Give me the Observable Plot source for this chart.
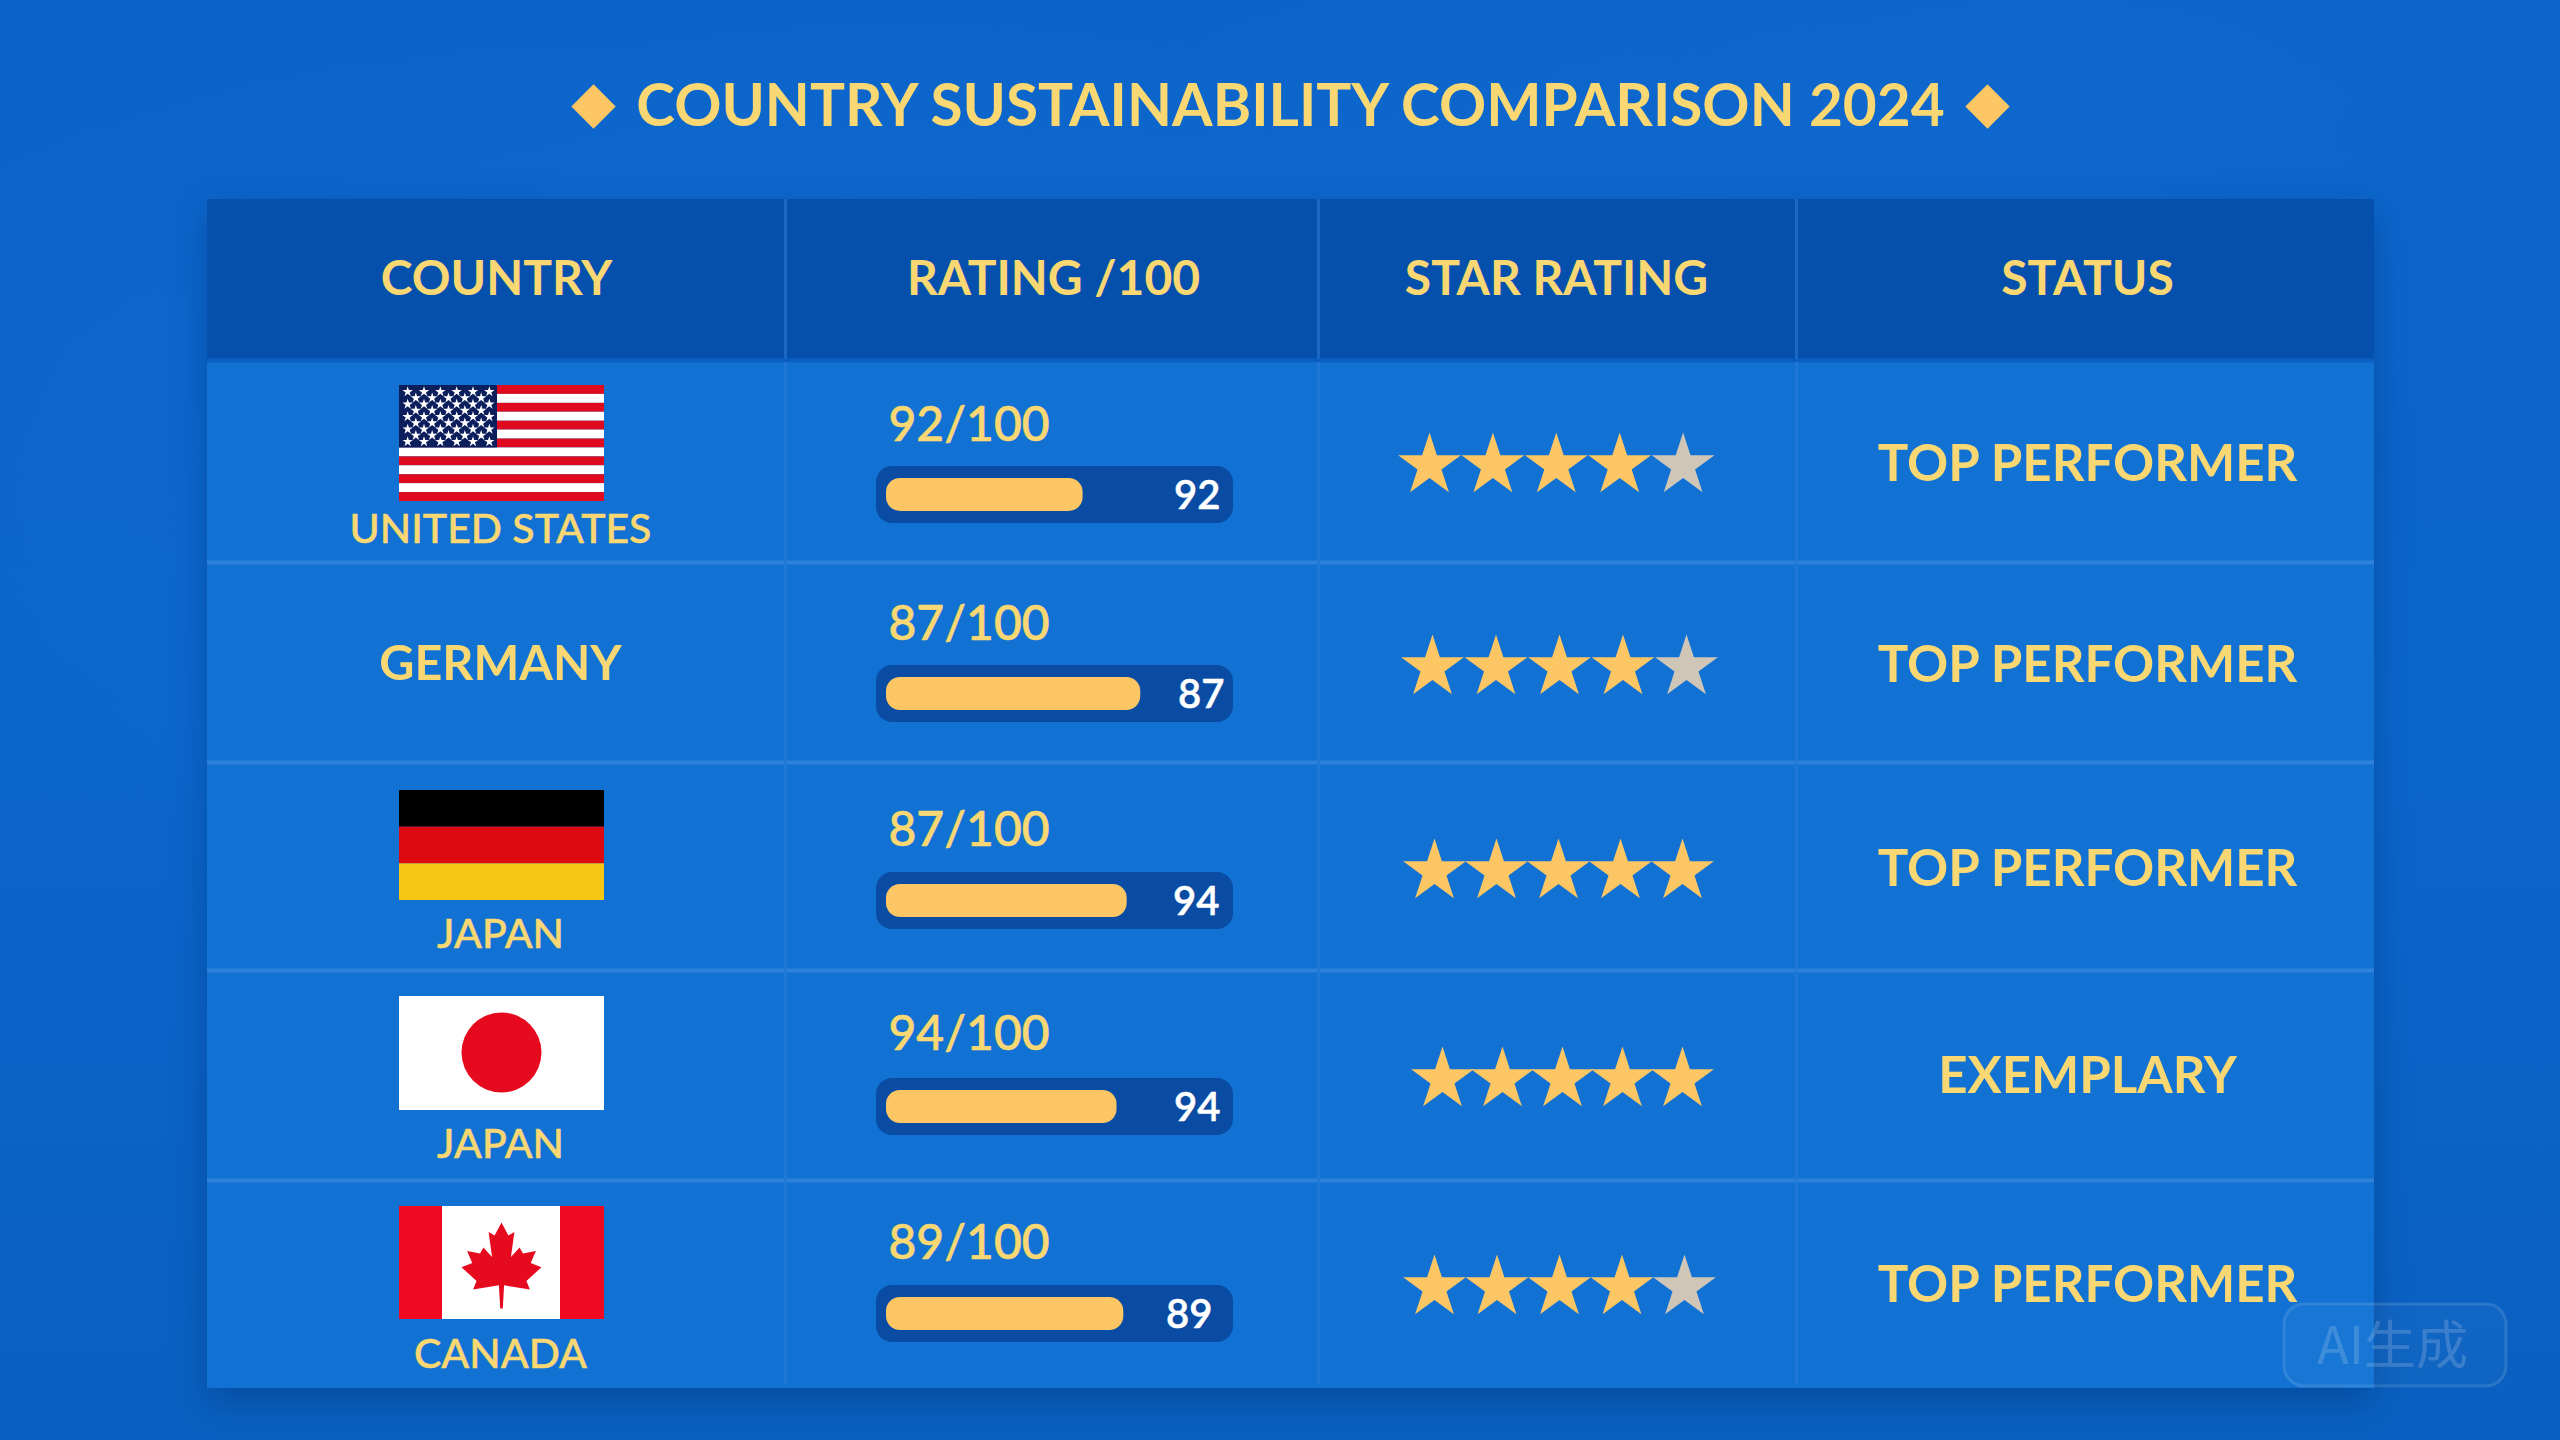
<!DOCTYPE html>
<html><head><meta charset="utf-8">
<script src="https://cdn.jsdelivr.net/npm/d3@7"></script>
<script src="https://cdn.jsdelivr.net/npm/@observablehq/plot@0.6"></script>
<style>
html,body{margin:0;padding:0;width:2560px;height:1440px;overflow:hidden;background:#0a63c6;}
#chart{position:absolute;left:0;top:0;width:2560px;height:1440px;
background:
 radial-gradient(ellipse 900px 500px at 25% 30%, rgba(30,120,225,.22) 0%, rgba(10,100,200,0) 100%),
 radial-gradient(ellipse 900px 400px at 80% 6%, rgba(30,120,225,.18) 0%, rgba(10,100,200,0) 100%),
 radial-gradient(ellipse at 50% 45%, rgba(30,120,220,.28) 0%, rgba(10,100,200,0) 65%),
 linear-gradient(180deg,#0a63c8 0%,#0b66cc 50%,#0a60c0 100%);}
svg{display:block}
</style></head><body><div id="chart"></div>
<script>
// ---------- data ----------
const titleText = "COUNTRY SUSTAINABILITY COMPARISON 2024";
const headers = ["COUNTRY","RATING /100","STAR RATING","STATUS"];
const countries = ["UNITED STATES","GERMANY","JAPAN","JAPAN","CANADA"];
const ratingLabels = ["92/100","87/100","87/100","94/100","89/100"];
const barLabels = [92,87,94,94,89];
const barFill = [58,75,71,68,70];   // drawn length as % of the track, as measured
const starsFilled = [4,4,5,5,4];
const statuses = ["TOP PERFORMER","TOP PERFORMER","TOP PERFORMER","EXEMPLARY","TOP PERFORMER"];

// ---------- layout ----------
const tableX = [207,2374], tableY=[199,1388], headBottom=359;
const colLines=[785,1318,1796];
const rowLines=[562,762,970,1180];
const colCentres=[496,1053,1556,2087];
const countryX=500;
const countryY=[529,664,934,1144,1354];
const ratingY=[425,624,830,1034,1243];
const trackTop=[466,665,872,1078,1285];
const trackH=57;
const statusY=[464,665,869,1076,1285];
const barLabelRight=[1220,1224,1219,1220,1212];
const starY=[465,667,871,1079,1287];
const starStart=[1429,1432,1434,1442,1434];
const starStep=[63.4,63.5,62,60,62.5];
const flagY={us:[385,501],de:[790,900],jp:[996,1110],ca:[1206,1319]};
const flagX=[399,604];
const barScale=d3.scaleLinear([0,100],[886,1225]);

const YELLOW="#f9d873", BAR="#fdc664", TRACK="#0a4ca3", GREY="#cfc6b8";
const FONT="Lato, 'Open Sans', sans-serif";

// ---------- derived tables ----------
const rows=countries.map((c,i)=>({i,country:c,rating:ratingLabels[i],label:barLabels[i],fill:barFill[i],status:statuses[i],stars:starsFilled[i]}));
const stars=rows.flatMap(r=>d3.range(5).map(k=>({x:starStart[r.i]+k*starStep[r.i],y:starY[r.i],on:k<r.stars})));

function polySymbol(pts){return {draw(ctx,size){const R=Math.sqrt(size/Math.PI);pts.forEach(([x,y],i)=>i?ctx.lineTo(x*R,y*R):ctx.moveTo(x*R,y*R));ctx.closePath();}};}
const starSym=polySymbol(d3.range(10).map(k=>{const a=-Math.PI/2+k*Math.PI/5,r=k%2?.382:1;return [r*Math.cos(a),r*Math.sin(a)];}));
const leafRight=[[0,-1],[.16,-.7],[.3,-.78],[.22,-.2],[.42,-.42],[.5,-.28],[.8,-.34],[.68,-.06],[.93,.04],[.58,.36],[.66,.56],[.06,.46],[.03,1]];
const leafSym=polySymbol([...leafRight,...leafRight.slice(1).reverse().map(([x,y])=>[-x,y])]);

// flag parts
const [ux0,ux1]=flagX,[uy0,uy1]=flagY.us, sh=(uy1-uy0)/13;
const usStripes=d3.range(13).map(k=>({y1:uy0+k*sh,y2:uy0+(k+1)*sh,c:k%2?"#ffffff":"#e00a1e"}));
const cantonX=[ux0,497],cantonY=[uy0,uy0+7*sh];
const usStars=d3.range(9).flatMap(r=>d3.range(r%2?5:6).map(c=>({
  x:ux0+ (c+(r%2?1:.5))*(cantonX[1]-ux0)/6,
  y:uy0+(r+1)*(7*sh)/10})));
const deColours=["#000000","#dd0a12","#f6c715"];
const deStripes=deColours.map((c,k)=>({y1:flagY.de[0]+k*(flagY.de[1]-flagY.de[0])/3,y2:flagY.de[0]+(k+1)*(flagY.de[1]-flagY.de[0])/3,c}));
const caBands=[[399,442,"#ef0a22"],[442,560,"#ffffff"],[560,604,"#ef0a22"]].map(([x1,x2,c])=>({x1,x2,c}));

const txt=(data,o)=>Plot.text(data,{fontFamily:FONT,lineAnchor:"middle",...o});
const fig=Plot.plot({
  width:2560,height:1440,margin:0,
  style:{background:"transparent"},
  x:{domain:[0,2560],range:[0,2560],axis:null},
  y:{domain:[0,1440],range:[0,1440],axis:null},
  color:{type:"identity"},
  marks:[
    // table body and header
    Plot.rect([0],{x1:tableX[0],x2:tableX[1],y1:tableY[0],y2:tableY[1],fill:"#1172d3",imageFilter:"drop-shadow(0 14px 18px rgba(0,50,120,.45))"}),
    Plot.rect([0],{x1:tableX[0],x2:tableX[1],y1:tableY[0],y2:headBottom,fill:"#0650ad"}),
    Plot.ruleY(rowLines,{x1:tableX[0],x2:tableX[1],stroke:"#2f80d8",strokeWidth:4}),
    Plot.ruleY([headBottom+1],{x1:tableX[0],x2:tableX[1],stroke:"#0a5fc0",strokeWidth:4}),
    Plot.ruleX(colLines,{y1:tableY[0],y2:headBottom,stroke:"#1a68c2",strokeWidth:3}),
    Plot.ruleX(colLines,{y1:headBottom+3,y2:tableY[1]-4,stroke:"#2279d6",strokeWidth:2.5}),
    // title
    txt([titleText],{x:1290,y:107,text:d=>d,fill:YELLOW,fontSize:58.5,fontWeight:700}),
    Plot.dot([593,1987],{x:d=>d,y:106,symbol:"diamond2",r:20,fill:BAR}),
    // headers
    txt(headers,{x:(d,i)=>colCentres[i],y:279,text:d=>d,fill:YELLOW,fontSize:48,fontWeight:700}),
    // countries
    txt(rows.filter(r=>r.i!==1),{x:countryX,y:r=>countryY[r.i],text:"country",fill:YELLOW,stroke:YELLOW,strokeWidth:.5,fontSize:41,fontWeight:500}),
    txt(rows.filter(r=>r.i===1),{x:countryX,y:r=>countryY[r.i],text:"country",fill:YELLOW,fontSize:48.5,fontWeight:700}),
    // rating
    txt(rows,{x:888,y:r=>ratingY[r.i],text:"rating",textAnchor:"start",fill:YELLOW,stroke:YELLOW,strokeWidth:.6,fontSize:48,fontWeight:500}),
    Plot.rect(rows,{x1:876,x2:1233,y1:r=>trackTop[r.i],y2:r=>trackTop[r.i]+trackH,fill:TRACK,rx:16}),
    Plot.rect(rows,{x1:barScale(0),x2:r=>barScale(r.fill),y1:r=>trackTop[r.i]+12,y2:r=>trackTop[r.i]+trackH-12,fill:BAR,rx:14}),
    txt(rows,{x:r=>barLabelRight[r.i],y:r=>trackTop[r.i]+trackH/2+1,text:r=>String(r.label),textAnchor:"end",fill:"#ffffff",stroke:"#ffffff",strokeWidth:.5,fontSize:40,fontWeight:600}),
    // stars
    Plot.dot(stars,{x:"x",y:"y",symbol:starSym,r:33,fill:d=>d.on?BAR:GREY}),
    // status
    txt(rows,{x:2087,y:r=>statusY[r.i],text:"status",fill:YELLOW,fontSize:51,fontWeight:700}),
    // flags
    Plot.rect(usStripes,{x1:ux0,x2:ux1,y1:"y1",y2:"y2",fill:"c"}),
    Plot.rect([0],{x1:cantonX[0],x2:cantonX[1],y1:cantonY[0],y2:cantonY[1],fill:"#0c1f5c"}),
    Plot.dot(usStars,{x:"x",y:"y",symbol:starSym,r:5.5,fill:"#ffffff"}),
    Plot.rect(deStripes,{x1:flagX[0],x2:flagX[1],y1:"y1",y2:"y2",fill:"c"}),
    Plot.rect([0],{x1:flagX[0],x2:flagX[1],y1:flagY.jp[0],y2:flagY.jp[1],fill:"#ffffff"}),
    Plot.dot([0],{x:501,y:1052,r:40,fill:"#e60a1e"}),
    Plot.rect(caBands,{x1:"x1",x2:"x2",y1:flagY.ca[0],y2:flagY.ca[1],fill:"c"}),
    Plot.dot([0],{x:501,y:1265,symbol:leafSym,r:43,fill:"#e60a1e"}),
    // watermark
    Plot.rect([0],{x1:2284,x2:2506,y1:1304,y2:1386,rx:20,fill:"#ffffff",fillOpacity:.03,stroke:"#ffffff",strokeOpacity:.12,strokeWidth:3}),
    Plot.text(["AI生成"],{x:2392,y:1347,text:d=>d,fill:"#ffffff",fillOpacity:.17,fontSize:52,fontFamily:"'Noto Sans CJK SC',sans-serif",lineAnchor:"middle"})
  ]
});
document.getElementById("chart").appendChild(fig);
</script></body></html>
